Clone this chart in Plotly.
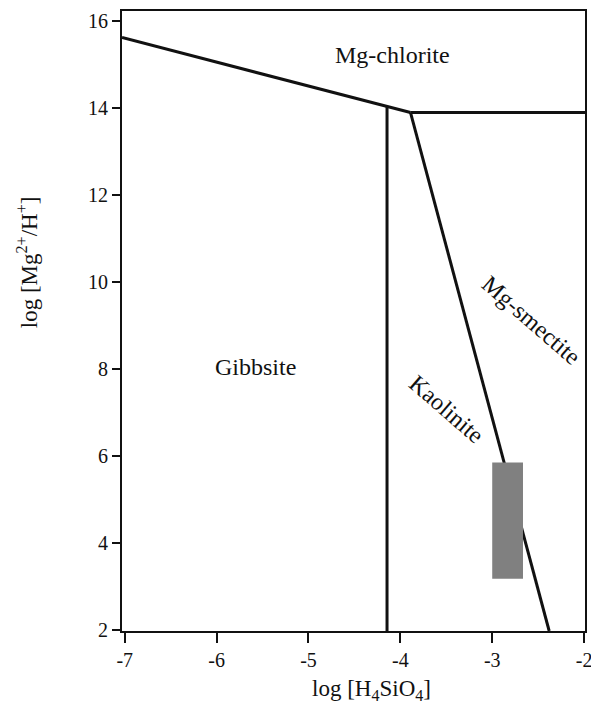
import plotly.graph_objects as go

# Phase boundaries (log[H4SiO4], log[Mg2+/H+])
chlorite_gibbs_x = [-7.03, -3.89]
chlorite_gibbs_y = [15.61, 13.89]
chlorite_smectite_x = [-3.89, -1.99]
chlorite_smectite_y = [13.89, 13.89]
gibbs_kaol_x = [-4.145, -4.145]
gibbs_kaol_y = [14.03, 1.98]
kaol_smectite_x = [-3.89, -2.38]
kaol_smectite_y = [13.89, 1.98]

# Sample field (gray box)
box_x = [-3.0, -2.665, -2.665, -3.0, -3.0]
box_y = [3.18, 3.18, 5.85, 5.85, 3.18]

# Field labels
label_text = ["Mg-chlorite", "Gibbsite", "Mg-smectite", "Kaolinite"]
label_x = [-4.09, -5.575, -2.575, -3.50]
label_y = [15.21, 8.05, 9.13, 7.08]
label_angle = [0, 0, 41, 41]

x_ticks = [-7, -6, -5, -4, -3, -2]
y_ticks = [2, 4, 6, 8, 10, 12, 14, 16]

FONT = "Liberation Serif"
INK = "#111111"

fig = go.Figure()
for xs, ys in [(chlorite_gibbs_x, chlorite_gibbs_y),
               (chlorite_smectite_x, chlorite_smectite_y),
               (gibbs_kaol_x, gibbs_kaol_y),
               (kaol_smectite_x, kaol_smectite_y)]:
    fig.add_trace(go.Scatter(x=xs, y=ys, mode="lines",
                             line=dict(color=INK, width=3),
                             showlegend=False, hoverinfo="skip"))

fig.add_trace(go.Scatter(x=box_x, y=box_y, mode="lines", fill="toself",
                         fillcolor="#808080", line=dict(width=0, color="#808080"),
                         showlegend=False, hoverinfo="skip"))

for t, x, y, a in zip(label_text, label_x, label_y, label_angle):
    fig.add_annotation(x=x, y=y, text=t, showarrow=False, textangle=a,
                       font=dict(family=FONT, size=24, color=INK))

fig.add_annotation(xref="paper", yref="paper", x=0.538, y=-0.095,
                   text="log [H<sub>4</sub>SiO<sub>4</sub>]",
                   showarrow=False, font=dict(family=FONT, size=23, color=INK),
                   xanchor="center", yanchor="middle")
fig.add_annotation(xref="paper", yref="paper", x=-0.205, y=0.595,
                   text="log [Mg<sup>2+</sup>/H<sup>+</sup>]",
                   showarrow=False, textangle=-90, font=dict(family=FONT, size=23, color=INK),
                   xanchor="center", yanchor="middle")

fig.update_layout(
    width=591, height=710,
    margin=dict(l=122, r=6, t=11, b=79),
    paper_bgcolor="white", plot_bgcolor="white",
    font=dict(family=FONT, size=20, color=INK),
    xaxis=dict(range=[-7.03, -1.99], tickvals=x_ticks, ticktext=[str(v) for v in x_ticks],
               ticks="outside", ticklen=10, tickwidth=1.5, tickcolor=INK,
               showline=True, linecolor=INK, linewidth=1.8, mirror=True, automargin=False,
               ticklabeloverflow="allow",
               showgrid=False, zeroline=False, tickfont=dict(family=FONT, size=20, color=INK)),
    yaxis=dict(range=[1.98, 16.22], tickvals=y_ticks, ticktext=[str(v) for v in y_ticks],
               ticks="outside", ticklen=8, tickwidth=1.5, tickcolor=INK,
               showline=True, linecolor=INK, linewidth=1.8, mirror=True, automargin=False,
               ticklabeloverflow="allow",
               showgrid=False, zeroline=False, tickfont=dict(family=FONT, size=20, color=INK)),
)

fig.write_html("out.html")
